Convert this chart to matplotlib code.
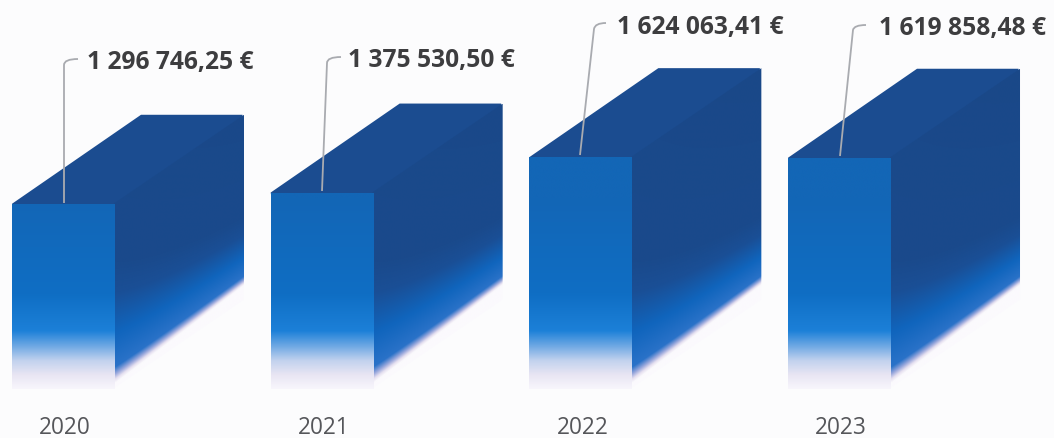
import numpy as np
import matplotlib
matplotlib.use("Agg")
import matplotlib.pyplot as plt
from matplotlib.colors import to_rgb
from matplotlib.patches import Polygon, PathPatch
from matplotlib.path import Path

years = ["2020", "2021", "2022", "2023"]
values = [1296746.25, 1375530.50, 1624063.41, 1619858.48]
labels = ["1 296 746,25 €", "1 375 530,50 €", "1 624 063,41 €", "1 619 858,48 €"]

W, H = 1054, 439
PX_X = 258.67            # pixels per category
PX_Y = 1.4245e-4         # pixels per euro
X0, Y0 = 63.5, 389.5     # pixel of category 0 / of zero
BAR_W = 103 / PX_X
DX, DY = 129 / PX_X, 89 / PX_Y

fig = plt.figure(figsize=(W / 100, H / 100), dpi=100, facecolor="#fcfcfd")
ax = fig.add_axes([0, 0, 1, 1])
xlim = (-X0 / PX_X, (W - X0) / PX_X)
ylim = ((Y0 - H) / PX_Y, Y0 / PX_Y)
ax.set_xlim(xlim)
ax.set_ylim(ylim)
ax.axis("off")


def ramp(d, stops):
    ds = [s[0] for s in stops]
    cols = np.array([to_rgb(s[1]) for s in stops])
    return np.dstack([np.interp(d, ds, cols[:, i]) for i in range(3)])


FRONT = [(0, "#f8f6fc"), (14, "#e8e5f3"), (28, "#c2d2ee"), (42, "#72aae4"),
         (58, "#1c80d8"), (95, "#0f6ec4"), (190, "#1366b6")]
SIDE = [(0, "#fbfafd"), (4, "#e6e0f0"), (9, "#9aa8dc"), (16, "#2a72c8"),
        (50, "#1065bd"), (90, "#1a4f96"), (120, "#1a4a8c"), (400, "#1a4888")]


def side_rgb(gx, gy, r):
    u = np.clip((gx - r) / DX, 0, 1)
    d = (gy - u * DY) * PX_Y - (6 + 9 * u)
    return ramp(np.clip(d, 0, None) * (1 + 0.8 * u), SIDE)


def paint(poly, rgb_fn):
    xs = [p[0] for p in poly]
    ys = [p[1] for p in poly]
    nx = int((max(xs) - min(xs)) * PX_X) + 2
    ny = int((max(ys) - min(ys)) * PX_Y) + 2
    gx, gy = np.meshgrid(np.linspace(min(xs), max(xs), nx),
                         np.linspace(max(ys), min(ys), ny))
    im = ax.imshow(rgb_fn(gx, gy), extent=(min(xs), max(xs), min(ys), max(ys)),
                   aspect="auto", interpolation="bilinear", zorder=2)
    im.set_clip_path(Polygon(poly, closed=True, transform=ax.transData))


OVER = 1.5 / PX_X
for i, v in enumerate(values):
    l, r = i - BAR_W / 2, i + BAR_W / 2
    # top face, running a little under the side and front faces
    ax.add_patch(Polygon([(l, v), (l + DX, v + DY), (r + DX - OVER, v + DY),
                          (r + DX - OVER, v + DY * 0.5), (r, v - DY * 0.5), (l + OVER, v - DY * 0.1)],
                         closed=True, fc="#1b4c90", ec="none", zorder=1))
    paint([(r - OVER, 0), (r + DX, DY), (r + DX, v + DY), (r - OVER, v)],
          lambda gx, gy, r=r: side_rgb(gx, gy, r))
    paint([(l, 0), (r, 0), (r, v), (l, v)],
          lambda gx, gy: ramp(gy * PX_Y, FRONT))


def px(x, y):
    return (x - X0) / PX_X, (Y0 - y) / PX_Y


leaders = [
    [(64, 204), (64, 66), (64, 60), (78, 60)],
    [(322, 192), (327, 64), (327, 58), (341, 58)],
    [(580, 156), (594, 30), (595, 24), (606, 24)],
    [(840, 157), (853, 31), (854, 26), (866, 26)],
]
label_xy = [(87, 62), (348, 61), (617, 27), (879, 29)]

for pts, txt, (tx, ty) in zip(leaders, labels, label_xy):
    verts = [px(*p) for p in pts]
    path = Path(verts, [Path.MOVETO, Path.LINETO, Path.CURVE3, Path.CURVE3])
    ax.add_patch(PathPatch(path, fc="none", ec="#a9abb0", lw=1.3, zorder=3))
    ax.text(*px(tx, ty), txt, ha="left", va="center", family="Open Sans",
            weight="bold", fontsize=17.7, color="#3d3d3f", zorder=4)

for i, y in enumerate(years):
    ax.text(*px(X0 + i * PX_X + 1.5, 428), y, ha="center", va="center",
            family="Open Sans", fontsize=16.3, color="#55565a", zorder=4)

ax.set_xlim(xlim)
ax.set_ylim(ylim)
fig.savefig("out.png", dpi=100, facecolor=fig.get_facecolor())
